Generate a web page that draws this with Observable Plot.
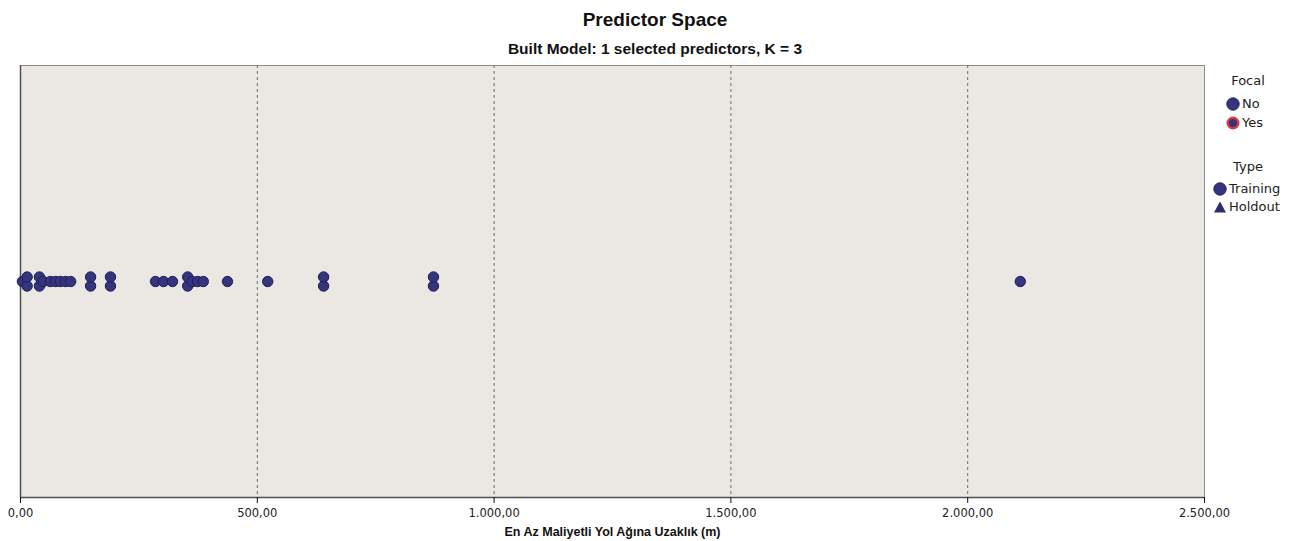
<!DOCTYPE html>
<html>
<head>
<meta charset="utf-8">
<script src="https://cdn.jsdelivr.net/npm/d3@7"></script>
<script src="https://cdn.jsdelivr.net/npm/@observablehq/plot@0.6"></script>
<style>
  body { margin: 0; background: #fff; }
  #wrap { position: relative; width: 1307px; height: 541px; overflow: hidden; }
  .head { position: absolute; left: 0; width: 1310px; text-align: center; font-family: "Liberation Sans", Arial, sans-serif; font-weight: bold; color: #111; white-space: nowrap; }
  #title { top: 8px; font-size: 19px; line-height: 24px; }
  #subtitle { top: 40px; font-size: 15.5px; line-height: 18px; }
  #chart { position: absolute; left: 0; top: 58px; }
  .legend { position: absolute; font-family: "DejaVu Sans", sans-serif; font-size: 13px; color: #222; white-space: nowrap; }
  .legend .hdr { position: absolute; width: 60px; text-align: center; line-height: 16px; }
  .legend .item { position: absolute; display: flex; align-items: center; line-height: 16px; }
  .legend svg { display: block; margin-right: 2px; }
</style>
</head>
<body>
<div id="wrap">
  <div class="head" id="title"></div>
  <div class="head" id="subtitle"></div>
  <div id="chart"></div>
  <div class="legend" id="legend" style="left:1210px; top:70px;"></div>
</div>
<script>
// Distance to the least-cost road network (m), one entry per case.
// Cases sharing the same distance are stacked around the centre line.
const distances = [
  4, 14, 14, 40, 40, 48, 63, 74, 84, 95, 106,
  148, 148, 190, 190,
  285, 302, 321, 353, 353, 363, 374, 386, 437, 522,
  640, 640, 872, 872, 2111
];
const xTicks = [0, 500, 1000, 1500, 2000, 2500];
const focalLevels = ["No", "Yes"];
const typeLevels = ["Training", "Holdout"];

const titleText = "Predictor Space";
const subtitleText = "Built Model: 1 selected predictors, K = 3";
const xLabel = "En Az Maliyetli Yol Ağına Uzaklık (m)";

document.getElementById("title").textContent = titleText;
document.getElementById("subtitle").textContent = subtitleText;

// Turkish number formatting: "." for thousands, "," for decimals
const trLocale = d3.formatLocale({decimal: ",", thousands: ".", grouping: [3], currency: ["", " ₺"]});
const fmt = trLocale.format(",.2f");

// stack repeated values: pairs go one step above and below the centre line
const counts = d3.rollup(distances, v => v.length, d => d);
const seen = new Map();
const cases = distances.map(d => {
  const n = counts.get(d);
  const i = seen.get(d) || 0;
  seen.set(d, i + 1);
  return {distance: d, offset: n === 1 ? 0 : -1 + (2 * i) / (n - 1), type: "Training", focal: "No"};
});

const chart = Plot.plot({
  width: 1307,
  height: 483,
  marginLeft: 20,
  marginRight: 103,
  marginTop: 7,
  marginBottom: 44,
  style: {background: "transparent", fontFamily: "DejaVu Sans, sans-serif", fontSize: "11.5px", color: "#222", overflow: "visible"},
  x: {domain: [0, 2500]},
  y: {domain: [-48, 48], axis: null},
  marks: [
    Plot.frame({fill: "#ebe7e3", stroke: "#8c8c8c"}),
    Plot.ruleX(xTicks.slice(1, -1), {stroke: "#6e6e6e", strokeDasharray: "3,3"}),
    Plot.ruleY([-48], {stroke: "#505050", strokeWidth: 1.5}),
    Plot.ruleX([0], {stroke: "#505050", strokeWidth: 1.5}),
    Plot.axisX({ticks: xTicks, tickFormat: fmt, tickSize: 6, tickPadding: 5, label: null, stroke: "#111"}),
    Plot.text([xLabel], {
      text: d => d, frameAnchor: "bottom", lineAnchor: "middle", dy: 34,
      fontWeight: "bold", fontFamily: "Liberation Sans, Arial, sans-serif", fontSize: 12.5, fill: "#111"
    }),
    Plot.dot(cases, {x: "distance", y: "offset", r: 5.2, fill: "#34347f", stroke: "#1f1f58", strokeWidth: 1})
  ]
});
document.getElementById("chart").append(chart);

// legend: Focal and Type
const legend = document.getElementById("legend");
const NS = "http://www.w3.org/2000/svg";
function symbol(kind) {
  const s = document.createElementNS(NS, "svg");
  s.setAttribute("width", 14); s.setAttribute("height", 14);
  let el;
  if (kind === "triangle") {
    el = document.createElementNS(NS, "path");
    el.setAttribute("d", "M7,1.5 L13,12.5 L1,12.5 Z");
    el.setAttribute("fill", "#2c2c6e");
  } else {
    el = document.createElementNS(NS, "circle");
    el.setAttribute("cx", 7); el.setAttribute("cy", 7); el.setAttribute("r", kind === "yes" ? 5.3 : 6.2);
    el.setAttribute("fill", "#34347f");
    if (kind === "yes") { el.setAttribute("stroke", "#e0383a"); el.setAttribute("stroke-width", 2.4); }
    else el.setAttribute("stroke", "#22225c");
  }
  s.append(el);
  return s;
}
function header(text, top) {
  const h = document.createElement("div");
  h.className = "hdr"; h.textContent = text;
  h.style.left = "8px"; h.style.top = top + "px";
  legend.append(h);
}
function item(text, kind, left, top) {
  const it = document.createElement("div");
  it.className = "item"; it.style.left = left + "px"; it.style.top = top + "px";
  it.append(symbol(kind));
  const t = document.createElement("span"); t.textContent = text;
  it.append(t);
  legend.append(it);
}
header("Focal", 3);
item(focalLevels[0], "circle", 16, 26);
item(focalLevels[1], "yes", 16, 45);
header("Type", 89);
item(typeLevels[0], "circle", 3, 111);
item(typeLevels[1], "triangle", 3, 129);
</script>
</body>
</html>
